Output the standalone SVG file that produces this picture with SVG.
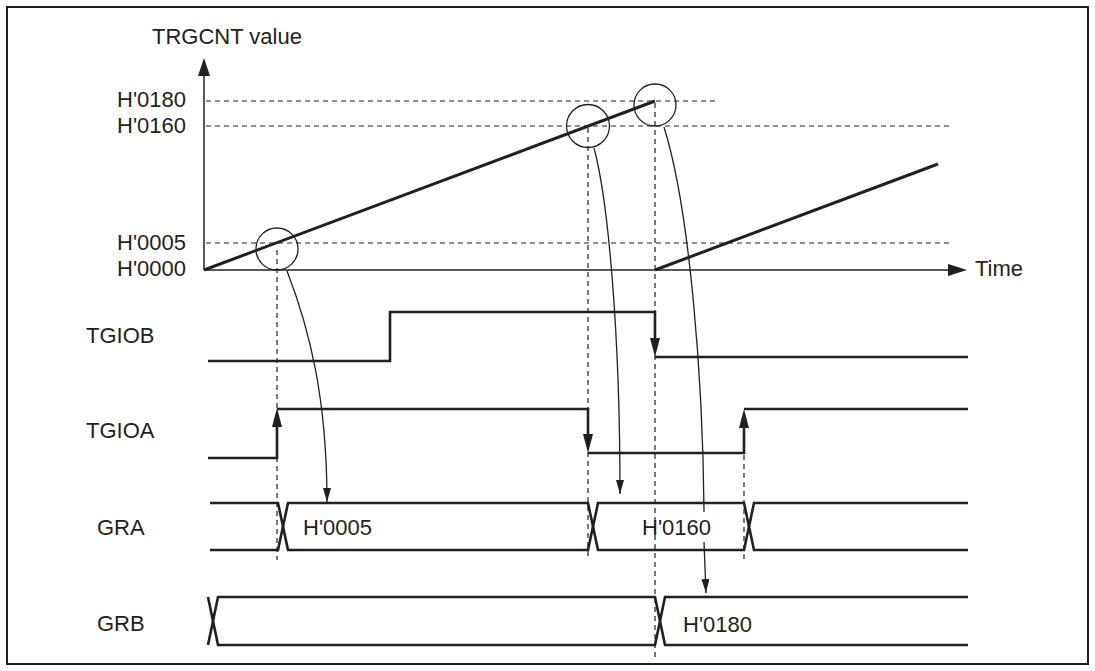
<svg xmlns="http://www.w3.org/2000/svg" width="1095" height="671" viewBox="0 0 1095 671">
<style>
text{font-family:"Liberation Sans",Arial,sans-serif;font-size:22px;fill:#231f20}
.sig{fill:none;stroke:#231f20;stroke-width:2.6;stroke-linejoin:miter}
.axis{fill:none;stroke:#231f20;stroke-width:1.5}
.dash{fill:none;stroke:#231f20;stroke-width:1.2;stroke-dasharray:5 4}
.thin{fill:none;stroke:#231f20;stroke-width:1.3}
.ramp{fill:none;stroke:#231f20;stroke-width:3}
.head{fill:#231f20;stroke:none}
</style>
<defs>
<marker id="ah" markerUnits="userSpaceOnUse" markerWidth="14" markerHeight="8" refX="14" refY="4" orient="auto">
<path d="M0,0 L14,4 L0,8 z" fill="#231f20"/>
</marker>
</defs>
<rect x="7" y="7" width="1081" height="657" fill="none" stroke="#231f20" stroke-width="2"/>

<g id="graph">
<line class="axis" x1="204" y1="270" x2="204" y2="74"/>
<polygon class="head" points="204,58 198,76 210,76"/>
<line class="axis" x1="204" y1="270" x2="950" y2="270"/>
<polygon class="head" points="967,270 948,264 948,276"/>
<text x="152" y="44">TRGCNT value</text>
<text x="975" y="276">Time</text>
<text x="117" y="107">H'0180</text>
<text x="117" y="133">H'0160</text>
<text x="117" y="250">H'0005</text>
<text x="117" y="276">H'0000</text>
<line class="dash" x1="206" y1="101" x2="715" y2="101"/>
<line class="dash" x1="206" y1="126" x2="952" y2="126"/>
<line class="dash" x1="206" y1="243" x2="952" y2="243"/>
<line class="ramp" x1="204" y1="270" x2="655" y2="101"/>
<line class="ramp" x1="655" y1="270" x2="938" y2="164"/>
<circle class="thin" cx="277" cy="249" r="21"/>
<circle class="thin" cx="588" cy="126" r="21.5"/>
<circle class="thin" cx="655" cy="105" r="21"/>
</g>

<g id="TGIOB">
<text x="86" y="343">TGIOB</text>
<polyline class="sig" points="208,361 390,361 390,312 655,312 655,345"/>
<polyline class="sig" points="655,357 968,357"/>
<polygon class="head" points="655,357 650,338 660,338"/>
</g>

<g id="TGIOA">
<text x="86" y="438">TGIOA</text>
<polyline class="sig" points="208,458 277,458 277,420"/>
<polygon class="head" points="277,408 272,427 282,427"/>
<polyline class="sig" points="277,409 588,409 588,442"/>
<polygon class="head" points="588,453 583,434 593,434"/>
<polyline class="sig" points="588,453 744,453 744,420"/>
<polygon class="head" points="744,409 739,428 749,428"/>
<polyline class="sig" points="744,409 968,409"/>
</g>

<g id="GRA">
<text x="97" y="535">GRA</text>
<polyline class="sig" points="210,503 278,503 288,550 588,550 598,503 744,503 754,550 968,550"/>
<polyline class="sig" points="210,550 278,550 288,503 588,503 598,550 744,550 754,503 968,503"/>
<text x="303" y="535">H'0005</text>
<text x="642" y="535">H'0160</text>
</g>

<g id="GRB">
<text x="97" y="631">GRB</text>
<polyline class="sig" points="208,597 218,645 655,645 665,597 968,597"/>
<polyline class="sig" points="208,645 218,597 655,597 665,645 968,645"/>
<text x="683" y="632">H'0180</text>
</g>

<g id="connectors">
<line class="dash" x1="277" y1="250" x2="277" y2="560"/>
<line class="dash" x1="588" y1="128" x2="588" y2="558"/>
<line class="dash" x1="655" y1="103" x2="655" y2="660"/>
<line class="dash" x1="744" y1="455" x2="744" y2="562"/>
<path class="thin" d="M287,271 C310,330 327,400 327,502" marker-end="url(#ah)"/>
<path class="thin" d="M594,148 C608,200 620,330 620,494" marker-end="url(#ah)"/>
<path class="thin" d="M664,127 C690,210 703,380 704,512"/>
<path class="thin" d="M704,542 L706,593" marker-end="url(#ah)"/>
</g>
</svg>
